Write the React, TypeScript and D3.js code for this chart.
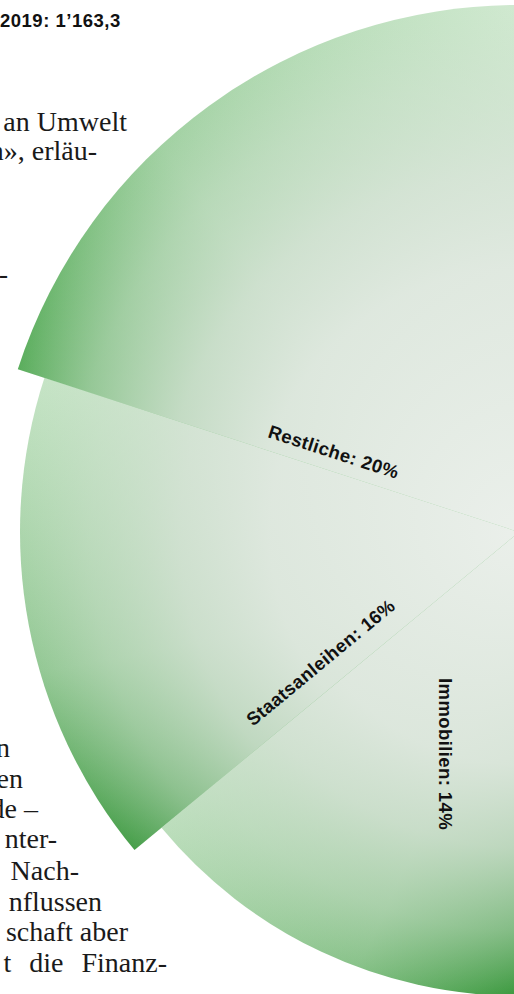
import React from "react";
import * as d3 from "d3";

// ---- data ----
const categories = ["Immobilien", "Staatsanleihen", "Restliche"];
const shares = [14, 16, 20]; // percent of total
const totalLabel = "2019: 1’163,3";

// background article text fragments (visible parts)
const articleLines = [
  "an Umwelt",
  "n», erläu-",
  "-",
  "n",
  "en",
  "de –",
  "nter-",
  "Nach-",
  "nflussen",
  "schaft aber",
  "t die Finanz-",
];

// ---- layout / style ----
const W = 514;
const H = 994;
const CX = 519;
const CY = 532;
const sliceRadius = [464, 499, 527];
const darkColor = ["#3a983d", "#469e49", "#5aad5c"];
const lightColor = ["#bcdebc", "#c6e4c6", "#d0e9d0"];
const labelPlace = [
  { along: 222, perp: 74 },
  { along: 236, perp: 26 },
  { along: 201, perp: 19 },
];
const articlePlace = [
  { x: 127, y: 131 },
  { x: 97, y: 160 },
  { x: 8, y: 283 },
  { x: 10, y: 757 },
  { x: 23, y: 788 },
  { x: 38, y: 818 },
  { x: 57, y: 848 },
  { x: 79, y: 880 },
  { x: 102, y: 911 },
  { x: 128, y: 941 },
  { x: 167, y: 972, ws: 11 },
];

export default function App() {
  const total = 100;
  const sum = d3.sum(shares);
  const pie = d3
    .pie<number>()
    .sort(null)
    .value((d) => d)
    .startAngle(Math.PI)
    .endAngle(Math.PI + (2 * Math.PI * sum) / total);
  const arcs = pie(shares);

  return (
    <svg
      width={W}
      height={H}
      viewBox={`0 0 ${W} ${H}`}
      style={{ position: "absolute", left: 0, top: 0, display: "block", background: "#fff" }}
    >
      {/* article text behind the chart */}
      <g fontFamily="'Liberation Serif', serif" fontSize={28} fill="#1a1a1a">
        {articleLines.map((t, i) => (
          <text
            key={i}
            x={articlePlace[i].x}
            y={articlePlace[i].y}
            textAnchor="end"
            style={articlePlace[i].ws ? { wordSpacing: `${articlePlace[i].ws}px` } : undefined}
          >
            {t}
          </text>
        ))}
      </g>

      <text
        x={0}
        y={27}
        fontFamily="'Liberation Sans', Arial, sans-serif"
        fontWeight="bold"
        fontSize={18.5}
        letterSpacing={0.5}
        fill="#111"
      >
        {totalLabel}
      </text>

      {/* slices */}
      <g transform={`translate(${CX},${CY})`}>
        <defs>
          {arcs.map((a, i) => {
            const r = sliceRadius[i];
            const x1 = r * Math.sin(a.startAngle);
            const y1 = -r * Math.cos(a.startAngle);
            const x2 = r * Math.sin(a.endAngle);
            const y2 = -r * Math.cos(a.endAngle);
            return (
              <React.Fragment key={i}>
                <linearGradient
                  id={`lin${i}`}
                  gradientUnits="userSpaceOnUse"
                  x1={x1}
                  y1={y1}
                  x2={x2}
                  y2={y2}
                >
                  <stop offset="0" stopColor={darkColor[i]} />
                  <stop offset="0.4" stopColor={d3.interpolateRgb(darkColor[i], lightColor[i])(0.6)} />
                  <stop offset="1" stopColor={lightColor[i]} />
                </linearGradient>
                <radialGradient id={`rad${i}`} gradientUnits="userSpaceOnUse" cx={0} cy={0} r={r}>
                  <stop offset="0" stopColor="#ecf0ec" stopOpacity={0.98} />
                  <stop offset="0.5" stopColor="#e4eae4" stopOpacity={0.9} />
                  <stop offset="0.68" stopColor="#dee6de" stopOpacity={0.74} />
                  <stop offset="0.86" stopColor="#d9e5d9" stopOpacity={0.4} />
                  <stop offset="1" stopColor="#d9e5d9" stopOpacity={0} />
                </radialGradient>
              </React.Fragment>
            );
          })}
        </defs>
        {arcs.map((a, i) => {
          const path =
            d3.arc<d3.PieArcDatum<number>>().innerRadius(0).outerRadius(sliceRadius[i])(a) || "";
          return (
            <g key={categories[i]}>
              <path d={path} fill={`url(#lin${i})`} />
              <path d={path} fill={`url(#rad${i})`} />
            </g>
          );
        })}
        {arcs.map((a, i) => {
          const s = a.startAngle;
          const p = labelPlace[i];
          const x = p.along * Math.sin(s) + p.perp * Math.cos(s);
          const y = -p.along * Math.cos(s) + p.perp * Math.sin(s);
          let rot = (s * 180) / Math.PI - 90;
          if (rot > 90 && rot < 270) rot -= 180;
          return (
            <text
              key={categories[i]}
              transform={`translate(${x},${y}) rotate(${rot})`}
              textAnchor="middle"
              dominantBaseline="central"
              fontFamily="'Liberation Sans', Arial, sans-serif"
              fontWeight="bold"
              fontSize={18.5}
              letterSpacing={0.4}
              fill="#111"
            >
              {`${categories[i]}: ${shares[i]}%`}
            </text>
          );
        })}
      </g>
    </svg>
  );
}
